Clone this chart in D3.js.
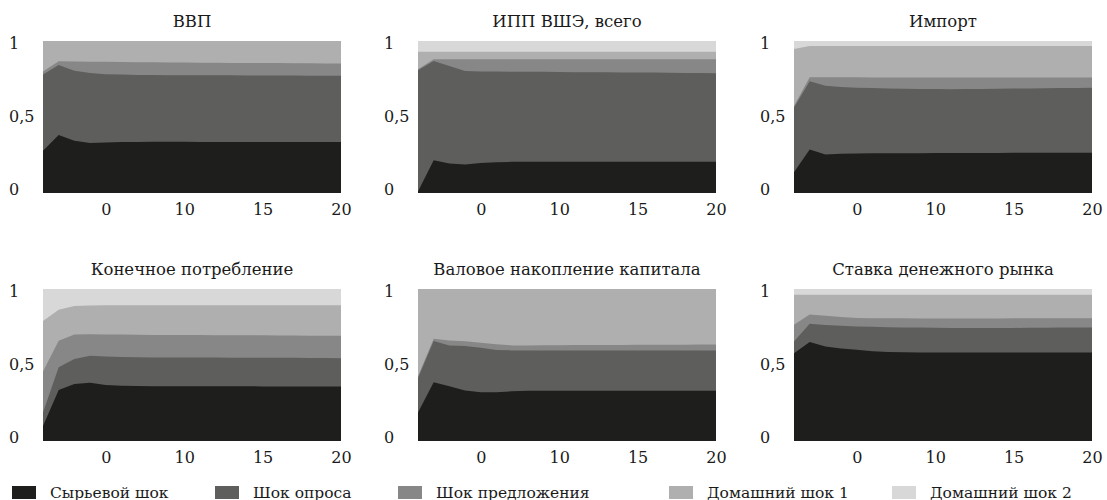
<!DOCTYPE html>
<html>
<head>
<meta charset="utf-8">
<script src="https://cdn.jsdelivr.net/npm/d3@7"></script>
<style>
  body { margin: 0; background: #ffffff; }
  svg text { font-family: "DejaVu Serif", "Liberation Serif", serif; fill: #1a1a1a; }
</style>
</head>
<body>
<svg id="chart" width="1107" height="500"></svg>
<script>
// Forecast horizons (quarters)
const horizons = [1, 2, 3, 4, 5, 6, 7, 8, 9, 10, 11, 12, 13, 14, 15, 16, 17, 18, 19, 20];

const shockNames = ["Сырьевой шок", "Шок опроса", "Шок предложения", "Домашний шок 1", "Домашний шок 2"];
const shockColors = ["#1e1e1c", "#5e5e5c", "#878787", "#afafaf", "#d8d8d8"];

const panelTitles = [
  "ВВП", "ИПП ВШЭ, всего", "Импорт",
  "Конечное потребление", "Валовое накопление капитала", "Ставка денежного рынка"
];

const xTickValues = [5, 10, 15, 20];
const xTickLabels = ["0", "10", "15", "20"];
const yTickValues = [0, 0.5, 1];
const yTickLabels = ["0", "0,5", "1"];

// Variance shares by shock: commodity, demand survey, supply, domestic 1, domestic 2
const gdpShares = [
  [0.278, 0.382, 0.344, 0.329, 0.333, 0.335, 0.336, 0.337, 0.337, 0.337, 0.336, 0.336, 0.336, 0.336, 0.335, 0.335, 0.335, 0.335, 0.335, 0.335],
  [0.502, 0.460, 0.460, 0.460, 0.449, 0.444, 0.441, 0.439, 0.438, 0.438, 0.438, 0.438, 0.438, 0.437, 0.438, 0.438, 0.438, 0.437, 0.437, 0.437],
  [0.020, 0.024, 0.061, 0.075, 0.081, 0.083, 0.084, 0.084, 0.084, 0.083, 0.083, 0.083, 0.082, 0.083, 0.082, 0.082, 0.081, 0.081, 0.080, 0.080],
  [0.200, 0.134, 0.135, 0.136, 0.137, 0.138, 0.139, 0.140, 0.141, 0.142, 0.143, 0.143, 0.144, 0.144, 0.145, 0.145, 0.146, 0.147, 0.148, 0.148],
  [0.000, 0.000, 0.000, 0.000, 0.000, 0.000, 0.000, 0.000, 0.000, 0.000, 0.000, 0.000, 0.000, 0.000, 0.000, 0.000, 0.000, 0.000, 0.000, 0.000]
];

const ippShares = [
  [0.010, 0.216, 0.194, 0.187, 0.198, 0.203, 0.205, 0.206, 0.206, 0.206, 0.206, 0.206, 0.206, 0.206, 0.205, 0.205, 0.205, 0.205, 0.205, 0.205],
  [0.797, 0.653, 0.642, 0.616, 0.602, 0.596, 0.593, 0.591, 0.591, 0.590, 0.589, 0.589, 0.588, 0.587, 0.587, 0.587, 0.586, 0.585, 0.584, 0.583],
  [0.007, 0.011, 0.044, 0.077, 0.080, 0.081, 0.082, 0.083, 0.083, 0.084, 0.085, 0.085, 0.086, 0.087, 0.088, 0.088, 0.089, 0.090, 0.091, 0.092],
  [0.115, 0.049, 0.049, 0.049, 0.049, 0.049, 0.049, 0.049, 0.049, 0.049, 0.049, 0.049, 0.049, 0.049, 0.049, 0.049, 0.049, 0.049, 0.049, 0.049],
  [0.071, 0.071, 0.071, 0.071, 0.071, 0.071, 0.071, 0.071, 0.071, 0.071, 0.071, 0.071, 0.071, 0.071, 0.071, 0.071, 0.071, 0.071, 0.071, 0.071]
];

const importShares = [
  [0.137, 0.286, 0.254, 0.258, 0.260, 0.261, 0.262, 0.262, 0.262, 0.263, 0.263, 0.263, 0.263, 0.263, 0.264, 0.264, 0.264, 0.264, 0.264, 0.264],
  [0.425, 0.450, 0.451, 0.439, 0.433, 0.429, 0.426, 0.424, 0.423, 0.421, 0.420, 0.421, 0.422, 0.423, 0.423, 0.424, 0.425, 0.426, 0.427, 0.428],
  [0.011, 0.026, 0.057, 0.064, 0.068, 0.070, 0.072, 0.074, 0.075, 0.076, 0.077, 0.076, 0.075, 0.074, 0.073, 0.072, 0.071, 0.070, 0.069, 0.068],
  [0.374, 0.205, 0.205, 0.206, 0.206, 0.207, 0.207, 0.207, 0.207, 0.207, 0.207, 0.207, 0.207, 0.207, 0.207, 0.207, 0.207, 0.207, 0.207, 0.207],
  [0.053, 0.033, 0.033, 0.033, 0.033, 0.033, 0.033, 0.033, 0.033, 0.033, 0.033, 0.033, 0.033, 0.033, 0.033, 0.033, 0.033, 0.033, 0.033, 0.033]
];

const consumptionShares = [
  [0.099, 0.335, 0.375, 0.383, 0.368, 0.363, 0.362, 0.361, 0.361, 0.361, 0.360, 0.360, 0.360, 0.360, 0.359, 0.359, 0.359, 0.358, 0.358, 0.358],
  [0.088, 0.150, 0.165, 0.178, 0.188, 0.190, 0.189, 0.189, 0.189, 0.188, 0.189, 0.189, 0.188, 0.188, 0.189, 0.188, 0.188, 0.188, 0.188, 0.187],
  [0.271, 0.175, 0.160, 0.141, 0.145, 0.147, 0.148, 0.148, 0.148, 0.148, 0.148, 0.147, 0.148, 0.147, 0.147, 0.147, 0.147, 0.147, 0.147, 0.147],
  [0.331, 0.203, 0.188, 0.190, 0.192, 0.193, 0.194, 0.195, 0.195, 0.196, 0.196, 0.197, 0.197, 0.198, 0.198, 0.199, 0.199, 0.200, 0.200, 0.201],
  [0.211, 0.137, 0.112, 0.108, 0.107, 0.107, 0.107, 0.107, 0.107, 0.107, 0.107, 0.107, 0.107, 0.107, 0.107, 0.107, 0.107, 0.107, 0.107, 0.107]
];

const investmentShares = [
  [0.188, 0.386, 0.360, 0.333, 0.320, 0.320, 0.327, 0.330, 0.331, 0.331, 0.331, 0.331, 0.331, 0.331, 0.331, 0.331, 0.331, 0.331, 0.331, 0.331],
  [0.227, 0.272, 0.269, 0.292, 0.294, 0.278, 0.269, 0.266, 0.265, 0.265, 0.265, 0.265, 0.265, 0.265, 0.265, 0.265, 0.265, 0.265, 0.265, 0.265],
  [0.011, 0.015, 0.033, 0.031, 0.033, 0.038, 0.033, 0.033, 0.034, 0.034, 0.035, 0.035, 0.036, 0.036, 0.037, 0.037, 0.038, 0.038, 0.039, 0.039],
  [0.574, 0.327, 0.338, 0.344, 0.353, 0.364, 0.371, 0.371, 0.370, 0.370, 0.369, 0.369, 0.368, 0.368, 0.367, 0.367, 0.366, 0.366, 0.365, 0.365],
  [0.000, 0.000, 0.000, 0.000, 0.000, 0.000, 0.000, 0.000, 0.000, 0.000, 0.000, 0.000, 0.000, 0.000, 0.000, 0.000, 0.000, 0.000, 0.000, 0.000]
];

const moneyRateShares = [
  [0.578, 0.651, 0.622, 0.608, 0.600, 0.590, 0.585, 0.584, 0.583, 0.583, 0.583, 0.583, 0.583, 0.583, 0.583, 0.583, 0.583, 0.583, 0.583, 0.583],
  [0.077, 0.120, 0.141, 0.150, 0.154, 0.161, 0.164, 0.163, 0.163, 0.162, 0.161, 0.160, 0.160, 0.161, 0.161, 0.162, 0.162, 0.163, 0.163, 0.164],
  [0.110, 0.062, 0.061, 0.057, 0.055, 0.057, 0.058, 0.060, 0.060, 0.061, 0.062, 0.063, 0.063, 0.062, 0.063, 0.062, 0.062, 0.062, 0.062, 0.061],
  [0.197, 0.129, 0.138, 0.147, 0.153, 0.154, 0.155, 0.155, 0.156, 0.156, 0.156, 0.156, 0.156, 0.156, 0.155, 0.155, 0.155, 0.154, 0.154, 0.154],
  [0.038, 0.038, 0.038, 0.038, 0.038, 0.038, 0.038, 0.038, 0.038, 0.038, 0.038, 0.038, 0.038, 0.038, 0.038, 0.038, 0.038, 0.038, 0.038, 0.038]
];

const panelShares = [gdpShares, ippShares, importShares, consumptionShares, investmentShares, moneyRateShares];

// ---- layout ----
const colLeft = [43, 418, 794];
const rowTop = [41, 289];
const plotW = 298;
const plotH = 152;
const titleSize = 16.5;
const tickSize = 16;
const legendSize = 15.5;
const fontStack = '"DejaVu Serif", "Liberation Serif", serif';

const svg = d3.select("#chart");

const keys = d3.range(shockNames.length);
const stack = d3.stack().keys(keys).value((row, k) => row.values[k]);

panelShares.forEach((shares, p) => {
  const left = colLeft[p % 3];
  const top = rowTop[Math.floor(p / 3)];

  const x = d3.scaleLinear().domain([1, 20]).range([0, plotW]);
  const y = d3.scaleLinear().domain([0, 1]).range([plotH, 0]);
  const yLabel = d3.scaleLinear().domain([0, 1]).range([plotH - 3.5, 2.5]);

  const g = svg.append("g").attr("transform", `translate(${left},${top})`);

  const rows = horizons.map((h, i) => ({ h, values: shares.map(s => s[i]) }));
  const layers = stack(rows);

  // Each layer is filled from the baseline up to its cumulative top,
  // drawn from the top layer down so neighbouring fills never leave seams.
  const area = d3.area()
    .x(d => x(d.data.h))
    .y0(y(0))
    .y1(d => y(d[1]));

  g.selectAll("path.layer")
    .data(layers.slice().reverse())
    .join("path")
    .attr("class", "layer")
    .attr("fill", d => shockColors[d.key])
    .attr("d", area);

  // Title
  g.append("text")
    .attr("x", plotW / 2)
    .attr("y", -14)
    .attr("text-anchor", "middle")
    .style("font-size", titleSize + "px")
    .text(panelTitles[p]);

  // X axis labels
  const xAxis = d3.axisBottom(x)
    .tickValues(xTickValues)
    .tickFormat((d, i) => xTickLabels[i])
    .tickSize(0)
    .tickPadding(11);
  const gx = g.append("g").attr("transform", `translate(0,${plotH})`).call(xAxis);
  gx.attr("font-family", fontStack);
  gx.select(".domain").remove();
  gx.selectAll("text")
    .style("font-size", tickSize + "px")
    .attr("fill", "#1a1a1a");

  // Y axis labels
  const yAxis = d3.axisLeft(yLabel)
    .tickValues(yTickValues)
    .tickFormat((d, i) => yTickLabels[i])
    .tickSize(0);
  const gy = g.append("g").call(yAxis);
  gy.attr("font-family", fontStack);
  gy.select(".domain").remove();
  gy.selectAll("text")
    .attr("x", -34)
    .attr("text-anchor", "start")
    .style("font-size", tickSize + "px")
    .attr("fill", "#1a1a1a");
});

// ---- legend ----
const legendX = [12, 215, 398, 669, 892];
const legend = svg.append("g").attr("transform", "translate(0,486)");
shockNames.forEach((name, i) => {
  legend.append("rect")
    .attr("x", legendX[i])
    .attr("y", 0)
    .attr("width", 24)
    .attr("height", 13)
    .attr("fill", shockColors[i]);
  legend.append("text")
    .attr("x", legendX[i] + 38)
    .attr("y", 11.5)
    .style("font-size", legendSize + "px")
    .text(name);
});
</script>
</body>
</html>
